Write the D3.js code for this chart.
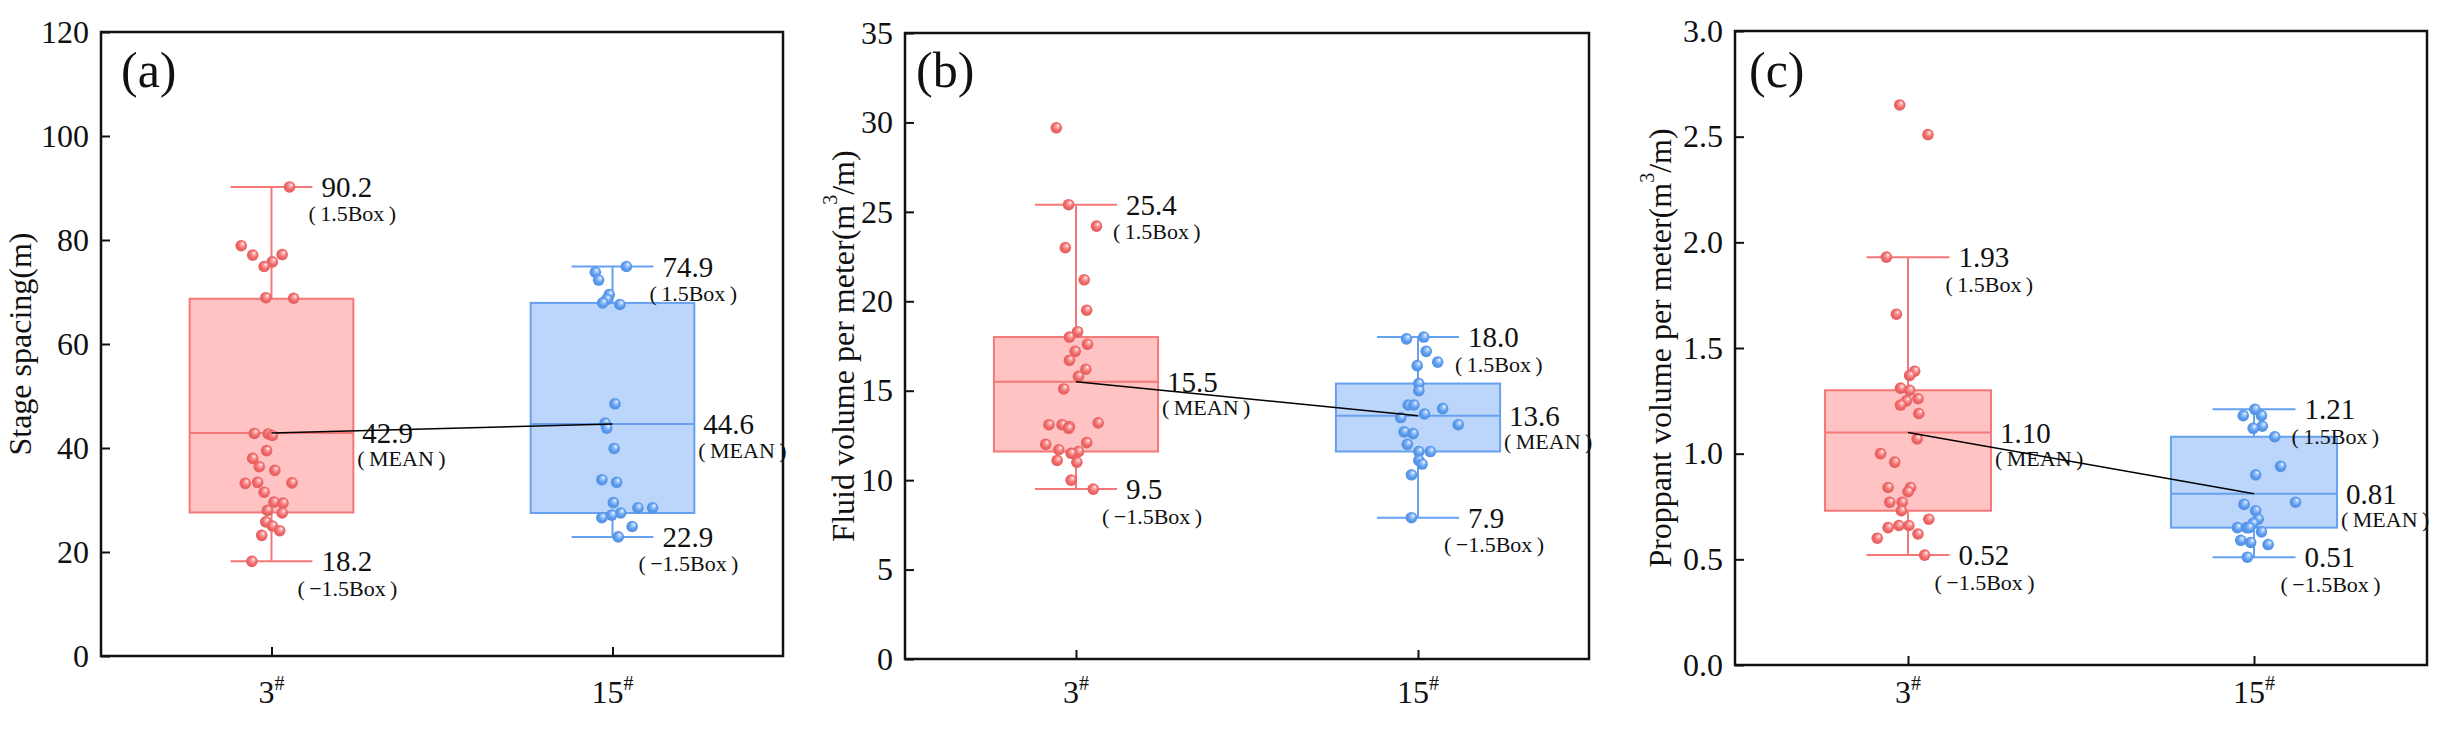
<!DOCTYPE html>
<html>
<head>
<meta charset="utf-8">
<script src="https://cdn.jsdelivr.net/npm/d3@7"></script>
<style>
  body { margin: 0; background: #fff; }
  svg { display: block; }
  text { font-family: "Liberation Serif", "Times New Roman", serif; fill: #111; }
</style>
</head>
<body>
<svg id="chart" width="2443" height="729"></svg>
<script>
// categories (wells)
var categories = ["3", "15"];

// (a) stage spacing, m
var spacing3 = [90.2, 78.9, 77.1, 77.2, 75.8, 74.9, 68.9, 68.8, 42.8, 42.7, 42.4, 39.5, 38.0, 36.4, 35.7, 33.2, 33.4, 33.3, 31.5, 29.6, 29.4, 28.0, 27.5, 25.8, 25.0, 24.1, 23.2, 18.2];
var spacingJit3 = [0.22, -0.37, -0.23, 0.13, 0.01, -0.09, -0.07, 0.27, -0.21, -0.04, 0.01, -0.06, -0.23, -0.15, 0.04, -0.32, -0.17, 0.25, -0.09, 0.03, 0.14, -0.05, 0.13, -0.07, 0.01, 0.10, -0.12, -0.24];
var spacing15 = [74.9, 73.8, 72.3, 69.5, 68.6, 67.9, 67.6, 48.5, 44.8, 43.8, 39.9, 33.9, 33.4, 29.5, 28.5, 28.5, 27.5, 26.6, 27.1, 24.9, 22.9];
var spacingJit15 = [0.17, -0.21, -0.17, -0.04, -0.07, -0.12, 0.09, 0.03, -0.09, -0.07, 0.02, -0.13, 0.05, 0.01, 0.31, 0.49, 0.10, -0.13, -0.01, 0.24, 0.07];
var spacingQ1 = [27.6, 27.5];
var spacingQ3 = [68.7, 67.9];
var spacingMean = [42.9, 44.6];
var spacingLow = [18.2, 22.9];
var spacingHigh = [90.2, 74.9];

// (b) fluid volume per meter, m3/m
var fluid3 = [29.7, 25.4, 24.2, 23.0, 21.2, 19.5, 18.3, 18.0, 17.6, 17.2, 16.7, 16.2, 15.8, 15.1, 13.1, 13.1, 13.0, 12.9, 13.2, 12.0, 12.1, 11.7, 11.6, 11.5, 11.1, 11.0, 10.0, 9.5];
var fluidJit3 = [-0.24, -0.09, 0.25, -0.13, 0.10, 0.13, 0.02, -0.08, 0.14, -0.01, -0.08, 0.12, 0.03, -0.15, -0.33, -0.17, -0.08, -0.09, 0.27, -0.37, 0.13, -0.21, 0.03, -0.06, -0.23, 0.01, -0.06, 0.21];
var fluid15 = [17.9, 18.0, 17.2, 16.6, 16.4, 15.4, 15.0, 14.2, 14.2, 14.0, 13.7, 13.5, 13.1, 12.7, 12.6, 12.0, 11.6, 11.6, 11.1, 10.9, 10.3, 7.9];
var fluidJit15 = [-0.14, 0.07, 0.10, 0.24, -0.01, 0.01, 0.01, -0.12, -0.05, 0.30, 0.08, -0.21, 0.49, -0.17, -0.06, -0.13, 0.01, 0.15, 0.01, 0.05, -0.08, -0.08];
var fluidQ1 = [11.6, 11.6];
var fluidQ3 = [18.0, 15.4];
var fluidMean = [15.5, 13.6];
var fluidLow = [9.5, 7.9];
var fluidHigh = [25.4, 18.0];

// (c) proppant volume per meter, m3/m
var proppant3 = [2.65, 2.51, 1.93, 1.66, 1.39, 1.37, 1.31, 1.30, 1.25, 1.26, 1.23, 1.19, 1.07, 1.00, 0.96, 0.84, 0.84, 0.82, 0.77, 0.77, 0.73, 0.69, 0.65, 0.66, 0.66, 0.62, 0.60, 0.52];
var proppantJit3 = [-0.10, 0.24, -0.26, -0.14, 0.08, 0.02, -0.09, 0.02, -0.02, 0.12, -0.09, 0.13, 0.11, -0.33, -0.16, -0.24, 0.03, 0.00, -0.22, -0.07, -0.08, 0.25, -0.24, -0.11, 0.01, 0.12, -0.37, 0.20];
var proppant15 = [1.21, 1.18, 1.18, 1.13, 1.12, 1.08, 0.94, 0.90, 0.77, 0.76, 0.73, 0.69, 0.67, 0.65, 0.65, 0.65, 0.63, 0.59, 0.58, 0.57, 0.51];
var proppantJit15 = [0.01, -0.13, 0.09, 0.10, -0.01, 0.25, 0.32, 0.02, 0.50, -0.12, 0.02, 0.05, -0.01, -0.20, -0.09, -0.06, 0.09, -0.16, -0.04, 0.17, -0.08];
var proppantQ1 = [0.73, 0.65];
var proppantQ3 = [1.30, 1.08];
var proppantMean = [1.10, 0.81];
var proppantLow = [0.52, 0.51];
var proppantHigh = [1.93, 1.21];

// colours per category
var boxFill = ["#ffc3c3", "#bcd5fb"];
var boxStroke = ["#f47878", "#66a1ef"];
var dotBase = ["#f26767", "#5a9bf0"];
var dotLight = ["#fbb0b0", "#aacdfa"];

var svg = d3.select("#chart");

// sphere look for the dots
var defs = svg.append("defs");
dotBase.forEach(function(c, i){
  var gr = defs.append("radialGradient").attr("id", "dot" + i)
    .attr("cx", "50%").attr("cy", "50%").attr("r", "55%")
    .attr("fx", "66%").attr("fy", "30%");
  gr.append("stop").attr("offset", "0%").attr("stop-color", "#ffffff");
  gr.append("stop").attr("offset", "22%").attr("stop-color", dotLight[i]);
  gr.append("stop").attr("offset", "60%").attr("stop-color", c);
  gr.append("stop").attr("offset", "100%").attr("stop-color", d3.color(c).darker(0.25));
});

var panels = [
  { tag: "(a)", tagX: 121, left: 101, right: 783, top: 32, bottom: 656, yMax: 120, yStep: 20,
    tickFmt: d3.format("d"), valFmt: d3.format(".1f"), titleX: 20,
    title: [["Stage spacing(m)", false]],
    values: [spacing3, spacing15], jit: [spacingJit3, spacingJit15],
    q1: spacingQ1, q3: spacingQ3, mean: spacingMean, low: spacingLow, high: spacingHigh },
  { tag: "(b)", tagX: 916, left: 905, right: 1589, top: 33, bottom: 659, yMax: 35, yStep: 5,
    tickFmt: d3.format("d"), valFmt: d3.format(".1f"), titleX: 843,
    title: [["Fluid volume per meter(m", false], ["3", true], ["/m)", false]],
    values: [fluid3, fluid15], jit: [fluidJit3, fluidJit15],
    q1: fluidQ1, q3: fluidQ3, mean: fluidMean, low: fluidLow, high: fluidHigh },
  { tag: "(c)", tagX: 1749, left: 1735, right: 2427, top: 31, bottom: 665, yMax: 3, yStep: 0.5,
    tickFmt: d3.format(".1f"), valFmt: d3.format(".2f"), titleX: 1660,
    title: [["Proppant volume per meter(m", false], ["3", true], ["/m)", false]],
    values: [proppant3, proppant15], jit: [proppantJit3, proppantJit15],
    q1: proppantQ1, q3: proppantQ3, mean: proppantMean, low: proppantLow, high: proppantHigh }
];

panels.forEach(function(p){
  var g = svg.append("g");
  var x = d3.scalePoint().domain(categories).range([p.left, p.right]).padding(0.5);
  var y = d3.scaleLinear().domain([0, p.yMax]).range([p.bottom, p.top]);
  var half = (p.right - p.left) * 0.12;   // half box width
  var cap = half / 2;

  categories.forEach(function(c, i){
    var cx = x(c);
    // whisker
    g.append("line")
      .attr("x1", cx).attr("x2", cx)
      .attr("y1", y(p.high[i])).attr("y2", y(p.low[i]))
      .attr("stroke", boxStroke[i]).attr("stroke-width", 2);
    [p.high[i], p.low[i]].forEach(function(v){
      g.append("line")
        .attr("x1", cx - cap).attr("x2", cx + cap)
        .attr("y1", y(v)).attr("y2", y(v))
        .attr("stroke", boxStroke[i]).attr("stroke-width", 2);
    });
    // box
    g.append("rect")
      .attr("x", cx - half).attr("width", half * 2)
      .attr("y", y(p.q3[i])).attr("height", y(p.q1[i]) - y(p.q3[i]))
      .attr("fill", boxFill[i]).attr("stroke", boxStroke[i]).attr("stroke-width", 2);
    g.append("line")
      .attr("x1", cx - half).attr("x2", cx + half)
      .attr("y1", y(p.mean[i])).attr("y2", y(p.mean[i]))
      .attr("stroke", boxStroke[i]).attr("stroke-width", 2);

    // dots
    g.selectAll(null)
      .data(p.values[i])
      .enter().append("circle")
      .attr("cx", function(d, k){ return cx + p.jit[i][k] * half; })
      .attr("cy", function(d){ return y(d); })
      .attr("r", 5.8)
      .attr("fill", "url(#dot" + i + ")");

    // labels
    var capEnd = cx + cap;
    var boxEnd = cx + half;
    function label(xx, yy, txt, size){
      g.append("text").attr("x", xx).attr("y", yy)
        .attr("dominant-baseline", "central")
        .attr("font-size", size).text(txt);
    }
    label(capEnd + 9, y(p.high[i]), p.valFmt(p.high[i]), 29);
    label(capEnd - 4, y(p.high[i]) + 27, "(\u20091.5Box\u2009)", 22);
    label(capEnd + 9, y(p.low[i]), p.valFmt(p.low[i]), 29);
    label(capEnd - 15, y(p.low[i]) + 27, "(\u2009\u22121.5Box\u2009)", 22);
    label(boxEnd + 9, y(p.mean[i]), p.valFmt(p.mean[i]), 29);
    label(boxEnd + 4, y(p.mean[i]) + 26, "(\u2009MEAN\u2009)", 22);
  });

  // line joining the means
  g.append("line")
    .attr("x1", x(categories[0])).attr("y1", y(p.mean[0]))
    .attr("x2", x(categories[1])).attr("y2", y(p.mean[1]))
    .attr("stroke", "#000").attr("stroke-width", 1.5);

  // axes, ticks pointing inward
  var yAxis = g.append("g")
    .attr("transform", "translate(" + p.left + ",0)")
    .call(d3.axisLeft(y)
      .tickValues(d3.range(0, p.yMax + p.yStep / 2, p.yStep))
      .tickFormat(p.tickFmt)
      .tickSizeInner(-9).tickSizeOuter(0).tickPadding(12));
  yAxis.select(".domain").remove();
  yAxis.selectAll("line").attr("stroke", "#111").attr("stroke-width", 2);
  yAxis.selectAll("text").attr("font-family", null).attr("font-size", 32).attr("fill", "#111");

  var xAxis = g.append("g")
    .attr("transform", "translate(0," + p.bottom + ")")
    .call(d3.axisBottom(x).tickFormat("").tickSizeInner(-9).tickSizeOuter(0));
  xAxis.select(".domain").remove();
  xAxis.selectAll("line").attr("stroke", "#111").attr("stroke-width", 2);

  categories.forEach(function(c){
    var t = g.append("text").attr("x", x(c)).attr("y", 703)
      .attr("text-anchor", "middle").attr("font-size", 32);
    t.append("tspan").text(c);
    t.append("tspan").attr("font-size", 20).attr("dy", -13).text("#");
  });

  // frame
  g.append("rect")
    .attr("x", p.left).attr("y", p.top)
    .attr("width", p.right - p.left).attr("height", p.bottom - p.top)
    .attr("fill", "none").attr("stroke", "#111").attr("stroke-width", 2.5);

  // panel tag
  g.append("text").attr("x", p.tagX).attr("y", 70)
    .attr("dominant-baseline", "central").attr("font-size", 50)
    .attr("fill", "#333").text(p.tag);

  // y title
  var cy = (p.top + p.bottom) / 2;
  var tt = g.append("text")
    .attr("transform", "translate(" + p.titleX + "," + cy + ") rotate(-90)")
    .attr("text-anchor", "middle").attr("dominant-baseline", "central")
    .attr("font-size", 32);
  var shifted = false;
  p.title.forEach(function(part){
    var s = tt.append("tspan").text(part[0]);
    if (part[1]) { s.attr("font-size", 20).attr("dy", -13); shifted = true; }
    else if (shifted) { s.attr("dy", 13); shifted = false; }
  });
});
</script>
</body>
</html>
